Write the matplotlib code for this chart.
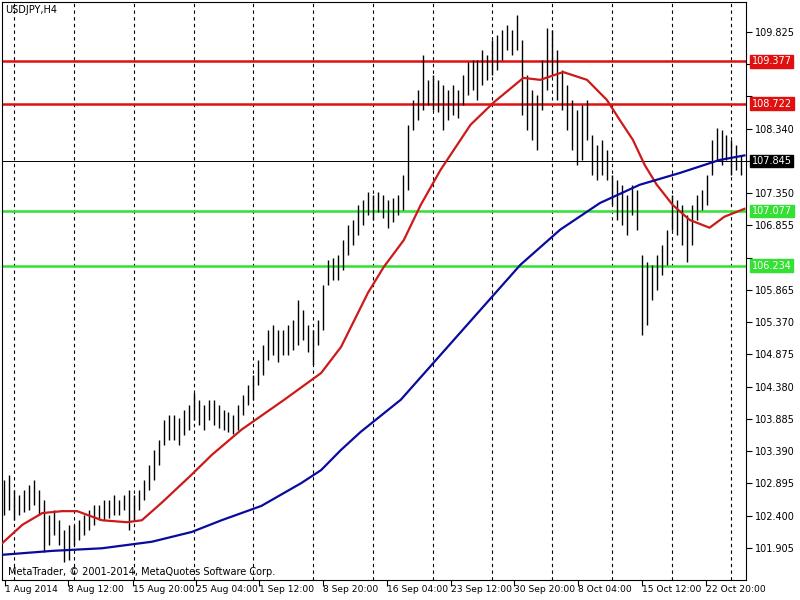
import matplotlib
matplotlib.use("Agg")
import matplotlib.pyplot as plt
import numpy as np

highs = [102.95,103.03,102.80,102.72,102.80,102.87,102.95,102.80,102.64,102.41,102.49,102.33,102.18,102.26,102.26,102.33,102.41,102.49,102.56,102.56,
         102.64,102.64,102.72,102.64,102.72,102.80,102.72,102.80,102.95,103.18,103.41,103.56,103.87,103.95,103.95,103.90,104.02,104.10,104.28,104.18,
         104.10,104.18,104.18,104.10,104.02,103.99,103.95,104.10,104.25,104.41,104.56,104.79,105.02,105.25,105.33,105.25,105.25,105.33,105.40,105.71,
         105.56,105.33,105.25,105.40,105.94,106.33,106.36,106.40,106.63,106.86,106.94,107.17,107.25,107.37,107.32,107.37,107.32,107.25,107.28,107.32,
         107.63,108.40,108.78,108.93,109.47,109.09,109.17,109.09,109.01,108.93,109.01,108.93,109.17,109.36,109.40,109.40,109.55,109.47,109.70,109.78,
         109.86,109.93,109.86,110.09,109.70,109.17,108.93,108.86,109.40,109.89,109.86,109.55,109.24,109.01,108.78,108.63,108.70,108.78,108.24,108.09,
         108.17,108.01,107.63,107.55,107.47,107.32,107.47,107.40,106.40,106.29,106.25,106.40,106.56,106.79,107.32,107.25,107.17,107.02,107.17,107.32,
         107.40,107.63,108.17,108.35,108.32,108.24,108.17,108.09,107.93]
lows = [102.41,102.49,102.33,102.41,102.46,102.49,102.56,102.41,101.84,101.95,102.10,101.95,101.69,101.72,101.95,102.03,102.10,102.18,102.26,102.33,
        102.33,102.36,102.41,102.41,102.49,102.18,102.33,102.49,102.64,102.80,102.95,103.18,103.49,103.56,103.56,103.49,103.64,103.72,103.87,103.79,
        103.72,103.87,103.79,103.75,103.72,103.68,103.65,103.72,103.95,104.10,104.18,104.41,104.56,104.79,104.87,104.76,104.87,104.87,104.94,105.02,
        105.10,104.91,104.71,105.02,105.25,105.94,106.02,106.02,106.17,106.40,106.56,106.71,106.86,107.02,106.94,107.06,106.97,106.82,106.91,107.02,
        107.09,107.40,108.32,108.47,108.63,108.70,108.63,108.60,108.32,108.47,108.55,108.50,108.70,108.86,108.93,108.78,109.01,109.09,109.17,109.24,
        109.40,109.55,109.47,109.55,108.55,108.32,108.17,108.01,108.63,108.93,109.17,108.78,108.63,108.32,108.01,107.78,107.86,108.17,107.63,107.55,
        107.63,107.55,107.17,106.94,106.86,106.71,107.02,106.79,105.17,105.33,105.71,105.86,106.09,106.25,106.79,106.71,106.56,106.29,106.56,106.94,
        107.09,107.17,107.63,107.86,107.78,107.86,107.63,107.70,107.63]

ma_red_x = [0,20,40,60,75,100,125,140,160,190,210,240,283,320,340,367,383,403,420,440,470,493,523,540,563,587,607,620,633,645,657,673,690,710,725,745]
ma_red = [101.98,102.26,102.44,102.47,102.47,102.33,102.30,102.33,102.60,103.03,103.33,103.72,104.18,104.59,104.99,105.82,106.22,106.63,107.17,107.71,
          108.40,108.74,109.12,109.09,109.21,109.09,108.78,108.47,108.17,107.78,107.48,107.17,106.94,106.82,106.99,107.11]
ma_blue_x = [0,50,100,150,190,220,260,300,320,340,360,400,440,480,520,560,600,640,680,720,745]
ma_blue = [101.80,101.86,101.90,102.00,102.15,102.33,102.55,102.90,103.10,103.41,103.69,104.18,104.87,105.56,106.25,106.79,107.20,107.48,107.66,107.86,107.93]

resist = [109.377, 108.722]
support = [107.077, 106.234]
current = 107.845
yticks = [109.825,109.330,108.835,108.340,107.845,107.350,106.855,106.360,105.865,105.370,104.875,104.380,103.885,103.390,102.895,102.400,101.905]
xlabels = ["1 Aug 2014","8 Aug 12:00","15 Aug 20:00","25 Aug 04:00","1 Sep 12:00","8 Sep 20:00","16 Sep 04:00",
           "23 Sep 12:00","30 Sep 20:00","8 Oct 04:00","15 Oct 12:00","22 Oct 20:00"]
xlabel_px = [3,66,131,194,258,322,386,450,514,578,642,706]

def px2i(x):
    return (np.asarray(x, float) - 2) / 5.0

fig = plt.figure(figsize=(8, 6), dpi=100)
ax = fig.add_axes([0.003, 20/600, 744/800, 578/600])
ax.set_xlim(px2i(0), px2i(747))
ax.set_ylim(101.413, 110.285)

for k in range(13):
    ax.axvline(px2i(12 + 60*k), color='black', lw=0.8, ls=(0, (3, 3)), zorder=1)

idx = np.arange(len(highs))
ax.vlines(idx, lows, highs, color='black', lw=1, zorder=3)

for r in resist:
    ax.axhline(r, color='#e01010', lw=1.8, zorder=2)
for s in support:
    ax.axhline(s, color='#33e033', lw=1.8, zorder=2)
ax.axhline(current, color='black', lw=0.7, zorder=2)

ax.plot(px2i(ma_red_x), ma_red, color='#cc1a1a', lw=1.6, zorder=4)
ax.plot(px2i(ma_blue_x), ma_blue, color='#0a0a9e', lw=1.6, zorder=4)

boxed = resist + support + [current]
ax.yaxis.tick_right()
ax.set_yticks(yticks)
ax.set_yticklabels(["" if min(abs(v - b) for b in boxed) < 0.13 else f"{v:.3f}" for v in yticks], fontsize=7)
ax.tick_params(axis='y', length=4, pad=2)
ax.set_xticks(px2i(xlabel_px))
ax.set_xticklabels([])
ax.tick_params(axis='x', length=4)
for lbl, x in zip(xlabels, xlabel_px):
    ax.text(px2i(x), 101.413 - 0.07, lbl, fontsize=6.6, ha='left', va='top', clip_on=False)

def box(v, fc, tc):
    ax.annotate(f"{v:.3f}", xy=(1.0, v), xycoords=('axes fraction', 'data'),
                xytext=(4, 0), textcoords='offset points', fontsize=7, color=tc,
                va='center', ha='left',
                bbox=dict(boxstyle='square,pad=0.15', fc=fc, ec=fc))
for r in resist:
    box(r, '#e01010', 'white')
for s in support:
    box(s, '#33e033', 'white')
box(current, 'black', 'white')

ax.text(0.004, 0.995, "USDJPY,H4", transform=ax.transAxes, fontsize=7, va='top', ha='left')
ax.text(0.008, 0.005, "MetaTrader, © 2001-2014, MetaQuotes Software Corp.", transform=ax.transAxes,
        fontsize=7, va='bottom', ha='left')

for sp in ax.spines.values():
    sp.set_linewidth(0.8)

fig.savefig("out.png", dpi=100)
